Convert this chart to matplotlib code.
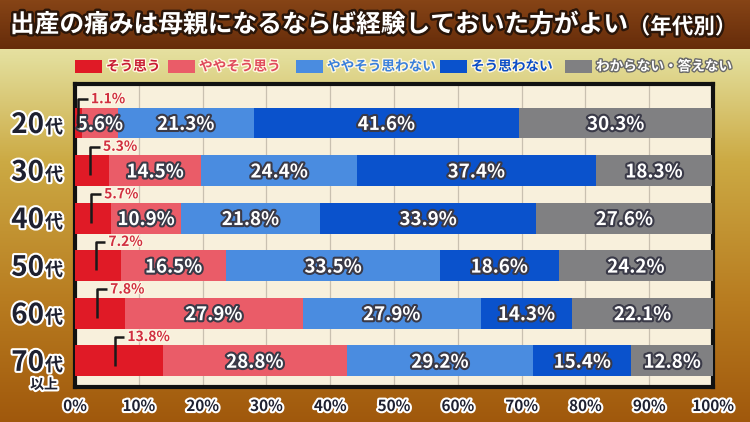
import matplotlib
matplotlib.use('Agg')
import matplotlib.pyplot as plt
import matplotlib.patheffects as pe
from matplotlib.patches import Rectangle
import numpy as np

plt.rcParams['font.family'] = ['Noto Sans CJK JP', 'DejaVu Sans']

# ---- data ----
title_main = '出産の痛みは母親になるならば経験しておいた方がよい'
title_sub = '（年代別）'
groups = ['20', '30', '40', '50', '60', '70']
group_suffix = '代'
group_extra = ['', '', '', '', '', '以上']
categories = ['そう思う', 'ややそう思う', 'ややそう思わない', 'そう思わない', 'わからない・答えない']
agree = [1.1, 5.3, 5.7, 7.2, 7.8, 13.8]
some_agree = [5.6, 14.5, 10.9, 16.5, 27.9, 28.8]
some_disagree = [21.3, 24.4, 21.8, 33.5, 27.9, 29.2]
disagree = [41.6, 37.4, 33.9, 18.6, 14.3, 15.4]
unknown = [30.3, 18.3, 27.6, 24.2, 22.1, 12.8]
xticks = [0, 10, 20, 30, 40, 50, 60, 70, 80, 90, 100]
xtick_labels = [f'{v}%' for v in xticks]

series = [agree, some_agree, some_disagree, disagree, unknown]
colors = ['#e01a26', '#ea5c68', '#4a8ce0', '#0a52cc', '#808082']
legend_text_colors = ['#c81c34', '#e04a5c', '#3a80dc', '#0a4cc8', '#ffffff']

W, H = 750, 422
fig = plt.figure(figsize=(W / 100, H / 100), dpi=100)

# ---- background ----
bg = fig.add_axes([0, 0, 1, 1], zorder=-10)
bg.set_axis_off()
ys = np.arange(H)
stops_y = [0, 48, 49, 60, 160, 300, 422]
stops_c = np.array([[0x86, 0x44, 0x16], [0x66, 0x2c, 0x0a], [0xe6, 0xe0, 0xa0],
                    [0xe2, 0xdc, 0x98], [0xcc, 0xaa, 0x44], [0xb8, 0x7c, 0x20],
                    [0xa0, 0x58, 0x0c]]) / 255.0
col = np.stack([np.interp(ys, stops_y, stops_c[:, k]) for k in range(3)], axis=1)
img = np.repeat(col[:, None, :], W, axis=1)
bg.imshow(img, extent=[0, 1, 0, 1], aspect='auto', origin='upper')
bg.set_xlim(0, 1)
bg.set_ylim(0, 1)

def fx(px):
    return px / W

def fy(py):
    return 1 - py / H

# ---- title ----
stroke_dark = [pe.withStroke(linewidth=3.5, foreground='#2a160a')]
t1 = fig.text(fx(10), fy(25), title_main, fontsize=17.8, fontweight='bold',
              color='white', ha='left', va='center', path_effects=stroke_dark)
fig.canvas.draw()
r = fig.canvas.get_renderer()
bb = t1.get_window_extent(r)
fig.text(bb.x1 / W, fy(27), title_sub, fontsize=15.5, fontweight='bold',
         color='white', ha='left', va='center', path_effects=stroke_dark)

# ---- legend ----
leg_x = [75, 168, 296, 440, 565]
for i, cat in enumerate(categories):
    fig.patches.append(Rectangle((fx(leg_x[i]), fy(73)), fx(27), 13 / H,
                                 transform=fig.transFigure, facecolor=colors[i],
                                 edgecolor='none'))
    pe_leg = ([pe.withStroke(linewidth=2, foreground='#6a6a6a')] if i == 4
              else [pe.withStroke(linewidth=2, foreground='#fff8e0')])
    fig.text(fx(leg_x[i] + 31), fy(66.5), cat, fontsize=9.8, fontweight='bold',
             color=legend_text_colors[i], ha='left', va='center', path_effects=pe_leg)

# ---- axes ----
ax = fig.add_axes([fx(75), fy(387), fx(713 - 75), (387 - 84) / H])
ax.set_facecolor('#f8f0dc')
n = len(groups)
ypos = np.arange(n)
bar_h = 0.65
left = np.zeros(n)
white_lbl = [pe.withStroke(linewidth=3, foreground='#3a3a48')]
for k, (vals, c) in enumerate(zip(series, colors)):
    vals = np.array(vals)
    ax.barh(ypos, vals, left=left, height=bar_h, color=c, edgecolor='none', zorder=3)
    if k > 0:
        for i in range(n):
            ax.text(left[i] + vals[i] / 2, ypos[i] + 0.03, f'{vals[i]:.1f}%',
                    ha='center', va='center', fontsize=13.5, fontweight='bold',
                    color='white', path_effects=white_lbl, zorder=5)
    left = left + vals

# callouts for first category
for i in range(n):
    v = agree[i]
    vx = v * 0.45
    ax.plot([vx, vx, vx + 1.5], [ypos[i] + 0.1, ypos[i] - 0.5, ypos[i] - 0.5],
            color='#1a1a1a', lw=1.8, zorder=6, solid_capstyle='butt')
    ax.text(vx + 2.0, ypos[i] - 0.5, f'{v:.1f}%', ha='left', va='center',
            fontsize=10, fontweight='bold', color='#d03040', zorder=6,
            path_effects=[pe.withStroke(linewidth=1.5, foreground='#fff8e8')])

ax.set_xlim(0, 100)
ax.set_ylim(5.55, -0.82)
ax.set_xticks(xticks)
ax.set_xticklabels([])
ax.set_yticks([])
ax.tick_params(length=0)
ax.grid(axis='x', color='#c9c0b0', lw=0.9, zorder=0)
ax.set_axisbelow(True)
for s in ax.spines.values():
    s.set_linewidth(3)
    s.set_color('#111111')

# x tick labels
dark_lbl = [pe.withStroke(linewidth=3, foreground='white')]
for v, lab in zip(xticks, xtick_labels):
    ax.annotate(lab, xy=(v, 0), xycoords=('data', 'axes fraction'),
                xytext=(0, -19), textcoords='offset pixels', ha='center', va='center',
                fontsize=11, fontweight='bold', color='#1e2030', path_effects=dark_lbl,
                annotation_clip=False)

# y group labels
for i in range(n):
    ax.annotate(groups[i], xy=(0, ypos[i]), xycoords=('axes fraction', 'data'),
                xytext=(-31, -10), textcoords='offset pixels', ha='right', va='baseline',
                fontsize=20, fontweight='bold', color='#1e2030', path_effects=dark_lbl,
                annotation_clip=False)
    ax.annotate(group_suffix, xy=(0, ypos[i]), xycoords=('axes fraction', 'data'),
                xytext=(-30, -10), textcoords='offset pixels', ha='left', va='baseline',
                fontsize=13, fontweight='bold', color='#1e2030', path_effects=dark_lbl,
                annotation_clip=False)
    if group_extra[i]:
        ax.annotate(group_extra[i], xy=(0, ypos[i]), xycoords=('axes fraction', 'data'),
                    xytext=(-31, -24), textcoords='offset pixels', ha='center', va='center',
                    fontsize=10, fontweight='bold', color='#1e2030', path_effects=dark_lbl,
                    annotation_clip=False)

fig.savefig('out.png', dpi=100)
